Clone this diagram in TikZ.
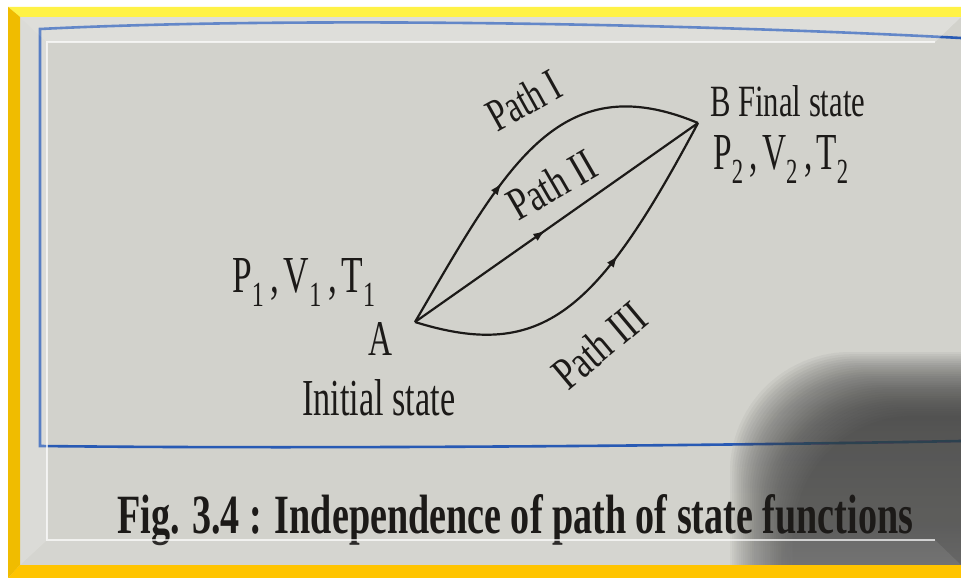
\documentclass[tikz,border=0pt]{standalone}
\usepackage{fontspec}
\setmainfont{Liberation Serif}
\usetikzlibrary{arrows.meta,decorations.markings}
\definecolor{paper}{RGB}{210,210,204}
\definecolor{ink}{RGB}{28,26,24}
\definecolor{bline}{RGB}{40,90,180}
\definecolor{shade}{RGB}{40,34,30}
\definecolor{ytop}{RGB}{255,242,70}
\definecolor{yleft}{RGB}{240,188,0}
\definecolor{ybot}{RGB}{255,196,0}
\newcommand\sbs[1]{\raisebox{-0.27em}{\scalebox{0.68}{#1}}}
\tikzset{
  curve/.style={line width=2.2pt, draw=ink},
  lbl/.style={inner sep=0pt, text=ink, anchor=base west},
  arrowat/.style={postaction={decorate}, decoration={markings,
     mark=at position #1 with {\arrow{Latex[length=12pt,width=8.5pt]}}}},
}
\begin{document}
\begin{tikzpicture}[x=1pt,y=-1pt]
\useasboundingbox (0,0) rectangle (961,578);
\fill[white] (0,0) rectangle (961,578);
\fill[paper] (8,7) rectangle (961,578);
% blue frame of the printed figure
\draw[bline, line width=2.6pt] (961,38) .. controls (700,24) and (300,16) .. (40,29)
   -- (40,446) .. controls (300,449) and (700,446) .. (961,441);
% shadow of the hand
\begin{scope}
\clip (8,7) rectangle (961,578);
\foreach \i in {0,...,29}
  \fill[shade, opacity=0.027, rounded corners=120pt] ({730+2.2*\i},{352+2.2*\i}) rectangle (1250,800);
\end{scope}
% states
\coordinate (A) at (415,322);
\coordinate (B) at (698,123);
\draw[curve, arrowat=0.42] (A) .. controls (505,168) and (558,64.5) .. (B);
\draw[curve, arrowat=0.46] (A) -- (B);
\draw[curve, arrowat=0.60] (A) .. controls (543,362) and (598,311) .. (B);
% labels
\node[lbl] (lblB) at (710,117) {\resizebox{155pt}{31pt}{B Final state}};
\node[lbl] (lblP2) at (713,169) {\resizebox{135pt}{34pt}{P\sbs{2}\hspace{0.2em},\hspace{0.12em}V\sbs{2}\hspace{0.2em},\hspace{0.12em}T\sbs{2}}};
\node[lbl] (lblP1) at (232,292) {\resizebox{143pt}{34pt}{P\sbs{1}\hspace{0.2em},\hspace{0.12em}V\sbs{1}\hspace{0.2em},\hspace{0.12em}T\sbs{1}}};
\node[lbl] (lblA) at (368,355) {\resizebox{24pt}{33pt}{A}};
\node[lbl] (lblInit) at (302,415) {\resizebox{153pt}{36pt}{Initial state}};
\node[lbl, rotate=29] (pI) at (497,133) {\resizebox{78pt}{32pt}{Path I}};
\node[lbl, rotate=30] (pII) at (518,222) {\resizebox{95pt}{32pt}{Path II}};
\node[lbl, rotate=40] (pIII) at (568,392) {\resizebox{107pt}{32pt}{Path III}};
\node[lbl] (cap) at (117,533) {\resizebox{796pt}{39pt}{\bfseries Fig. 3.4 : Independence of path of state functions}};
% bevel of the photo frame
\fill[white, opacity=0.28] (20,17) -- (961,17) -- (935,42) -- (47,42) -- cycle;
\fill[white, opacity=0.22] (20,17) -- (47,42) -- (47,540) -- (20,565) -- cycle;
\fill[white, opacity=0.08] (20,565) -- (47,540) -- (935,540) -- (961,565) -- cycle;
\draw[white, opacity=0.7, line width=1.2pt] (935,42) -- (47,42) -- (47,540) -- (935,540);
% yellow frame
\fill[ytop] (8,7) -- (961,7) -- (961,17) -- (20,17) -- cycle;
\fill[yleft] (8,7) -- (20,17) -- (20,565) -- (8,578) -- cycle;
\fill[ybot] (8,578) -- (20,565) -- (961,565) -- (961,578) -- cycle;
\end{tikzpicture}
\end{document}
